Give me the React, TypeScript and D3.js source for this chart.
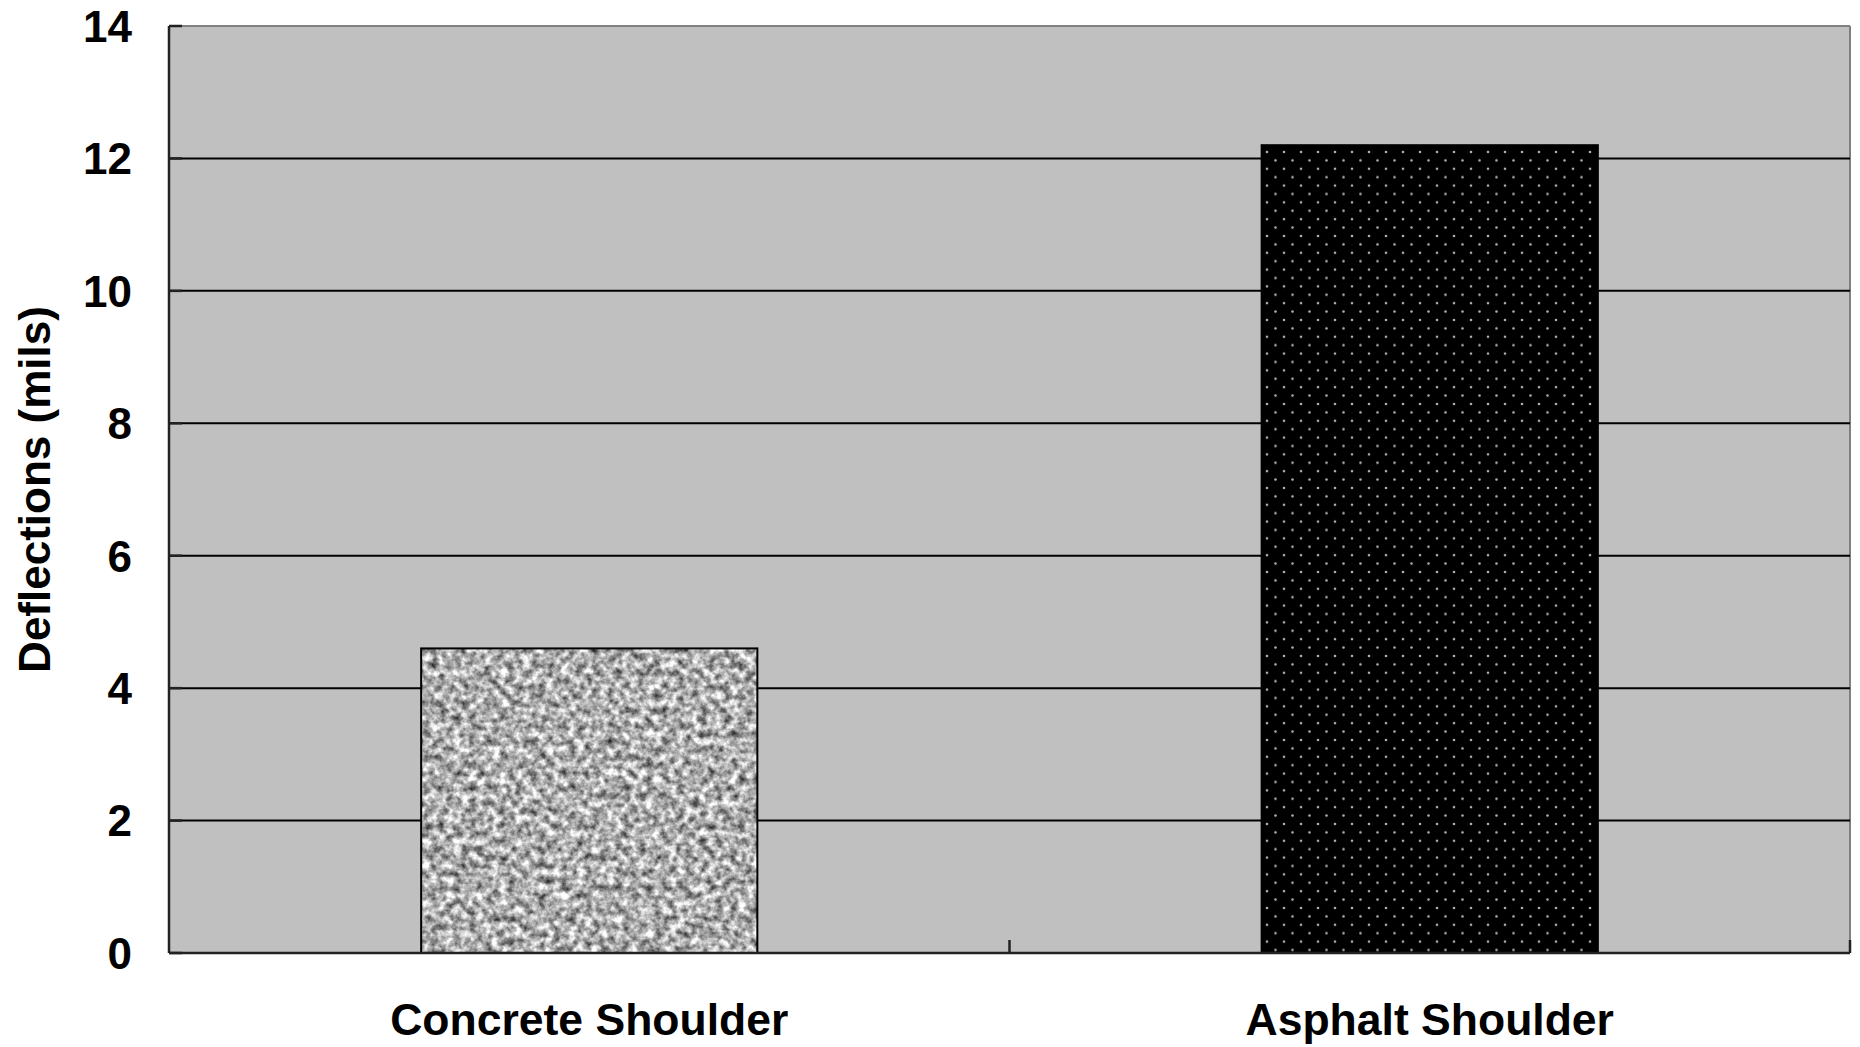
import * as d3 from 'd3';

const categories = ['Concrete Shoulder', 'Asphalt Shoulder'];
const deflections = [4.6, 12.2];
const yTicks = [0, 2, 4, 6, 8, 10, 12, 14];

const W = 1860;
const H = 1047;
const margin = { top: 26, right: 10, bottom: 94, left: 169 };
const FONT = '"Liberation Sans", Arial, sans-serif';

export default function App() {
  const x = d3.scaleBand<string>()
    .domain(categories)
    .range([margin.left, W - margin.right])
    .paddingInner(0.6)
    .paddingOuter(0.3);

  // outer bands without padding, for the category separator ticks
  const xCat = d3.scaleBand<string>()
    .domain(categories)
    .range([margin.left, W - margin.right]);

  const y = d3.scaleLinear()
    .domain([0, 14])
    .range([H - margin.bottom, margin.top]);

  const plotW = W - margin.left - margin.right;

  return (
    <svg width={W} height={H} style={{ position: 'absolute', left: 0, top: 0, background: '#fff' }}>
      <defs>
        <filter id="graniteNoise" x="0" y="0" width="1" height="1" filterUnits="objectBoundingBox"
          colorInterpolationFilters="sRGB">
          <feTurbulence type="fractalNoise" baseFrequency="0.13" numOctaves="3" seed="7" result="n" />
          <feColorMatrix in="n" type="matrix"
            values="1.3 0 0 0 0.03  1.3 0 0 0 0.03  1.3 0 0 0 0.03  0 0 0 0 1" />
        </filter>
        <pattern id="dots" width="17" height="16.8" patternUnits="userSpaceOnUse" x="1265" y="150">
          <rect width="17" height="16.8" fill="#000" />
          <circle cx="2" cy="2" r="1.3" fill="#b0b0b0" />
          <circle cx="10.5" cy="10.4" r="1.3" fill="#b0b0b0" />
        </pattern>
      </defs>

      {/* plot area */}
      <rect x={margin.left} y={margin.top} width={plotW} height={y(0) - margin.top} fill="#c0c0c0" />
      <line x1={margin.left} x2={W - margin.right} y1={margin.top} y2={margin.top} stroke="#808080" strokeWidth={2} />
      <line x1={W - margin.right} x2={W - margin.right} y1={margin.top} y2={y(0)} stroke="#808080" strokeWidth={2} />

      {/* gridlines */}
      {yTicks.filter(t => t > 0 && t < 14).map(t => (
        <line key={t} x1={margin.left} x2={W - margin.right} y1={y(t)} y2={y(t)} stroke="#000" strokeWidth={2} />
      ))}

      {/* bars */}
      {categories.map((c, i) => {
        const bx = x(c)!;
        const by = y(deflections[i]);
        const bh = y(0) - by;
        return (
          <g key={c}>
            {i === 0 ? (
              <rect x={bx} y={by} width={x.bandwidth()} height={bh} fill="#b0b0b0" filter="url(#graniteNoise)" />
            ) : (
              <rect x={bx} y={by} width={x.bandwidth()} height={bh} fill="url(#dots)" />
            )}
            <rect x={bx} y={by} width={x.bandwidth()} height={bh} fill="none" stroke="#000" strokeWidth={2} />
          </g>
        );
      })}

      {/* y axis */}
      <line x1={margin.left} x2={margin.left} y1={margin.top} y2={y(0)} stroke="#222" strokeWidth={2.5} />
      {yTicks.map(t => (
        <g key={t}>
          <line x1={margin.left} x2={margin.left + 13} y1={y(t)} y2={y(t)} stroke="#222" strokeWidth={2.5} />
          <text x={132} y={y(t)} dy="0.36em" textAnchor="end" fontFamily={FONT} fontWeight="bold" fontSize={44} fill="#000">
            {t}
          </text>
        </g>
      ))}

      {/* x axis */}
      <line x1={margin.left} x2={W - margin.right} y1={y(0)} y2={y(0)} stroke="#222" strokeWidth={2.5} />
      {categories.slice(1).map(c => (
        <line key={c} x1={xCat(c)!} x2={xCat(c)!} y1={y(0)} y2={y(0) - 13} stroke="#222" strokeWidth={2.5} />
      ))}
      <line x1={W - margin.right} x2={W - margin.right} y1={y(0)} y2={y(0) - 13} stroke="#222" strokeWidth={2.5} />
      {categories.map(c => (
        <text key={c} x={x(c)! + x.bandwidth() / 2} y={1035} textAnchor="middle" fontFamily={FONT} fontWeight="bold" fontSize={44.5} fill="#000">
          {c}
        </text>
      ))}

      <text transform={`translate(50,${(margin.top + y(0)) / 2}) rotate(-90)`} textAnchor="middle" fontFamily={FONT} fontWeight="bold" fontSize={44} fill="#000">
        Deflections (mils)
      </text>
    </svg>
  );
}
